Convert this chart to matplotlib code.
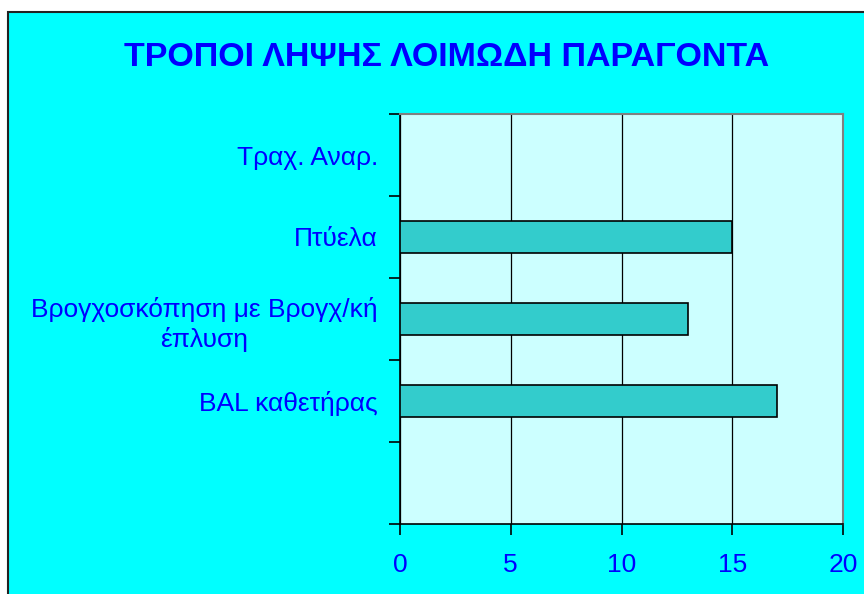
import numpy as np
import matplotlib.pyplot as plt
from matplotlib.patches import Rectangle

plt.rcParams['font.family'] = ['Liberation Sans', 'DejaVu Sans']

# categories listed from top to bottom (last slot is empty in the original)
categories = ['Τραχ. Αναρ.', 'Πτύελα', 'Βρογχοσκόπηση με Βρογχ/κή\nέπλυση', 'BAL καθετήρας', '']
values = [0, 15, 13, 17, 0]
xticks = [0, 5, 10, 15, 20]
title = 'ΤΡΟΠΟΙ ΛΗΨΗΣ ΛΟΙΜΩΔΗ ΠΑΡΑΓΟΝΤΑ'

W, H = 864, 594
fig = plt.figure(figsize=(W / 100, H / 100), dpi=100, facecolor='white')
#cyan chart area with thin black frame, white margin at left/top
fig.patches.append(Rectangle((8 / W, -0.05), 1.1, 1 - 12 / H + 0.05, transform=fig.transFigure,
                             facecolor='#00FFFF', edgecolor='#222222', linewidth=1.5, zorder=-1))

ax = fig.add_axes([400 / W, (H - 524) / H, 443 / W, 410 / H])
ax.set_facecolor('#CCFFFF')

n = len(categories)
pos = np.arange(n)
ax.barh(pos, values, height=0.4, color='#33CCCC', edgecolor='black', linewidth=1.2, zorder=3)

ax.set_xlim(0, 20)
ax.set_ylim(n - 0.5, -0.5)
ax.set_xticks(xticks)
ax.set_xticklabels([str(t) for t in xticks])
ax.xaxis.grid(True, color='black', linewidth=0.9)
ax.set_axisbelow(True)

#ticks at category boundaries, labels at centres
ax.set_yticks(np.arange(n + 1) - 0.5)
ax.set_yticklabels([''] * (n + 1))
ax.set_yticks(pos, minor=True)
ax.set_yticklabels(categories, minor=True, multialignment='center', linespacing=1.3)
ax.tick_params(axis='y', which='minor', length=0, pad=16, labelsize=19, labelcolor='#0000FF')
ax.tick_params(axis='y', which='major', length=8, width=1.2, direction='out')
ax.tick_params(axis='x', length=8, width=1.2, direction='out', pad=12.6, labelsize=19, labelcolor='#0000FF')

for s in ['left', 'bottom']:
    ax.spines[s].set_color('black')
    ax.spines[s].set_linewidth(1.2)
for s in ['top', 'right']:
    ax.spines[s].set_color('#808080')
    ax.spines[s].set_linewidth(1.5)

fig.text(446.5 / W, 1 - 66 / H, title, ha='center', va='baseline', fontsize=24.5,
         fontweight='bold', color='#0000FF')

fig.savefig('out.png', dpi=100, facecolor=fig.get_facecolor())
